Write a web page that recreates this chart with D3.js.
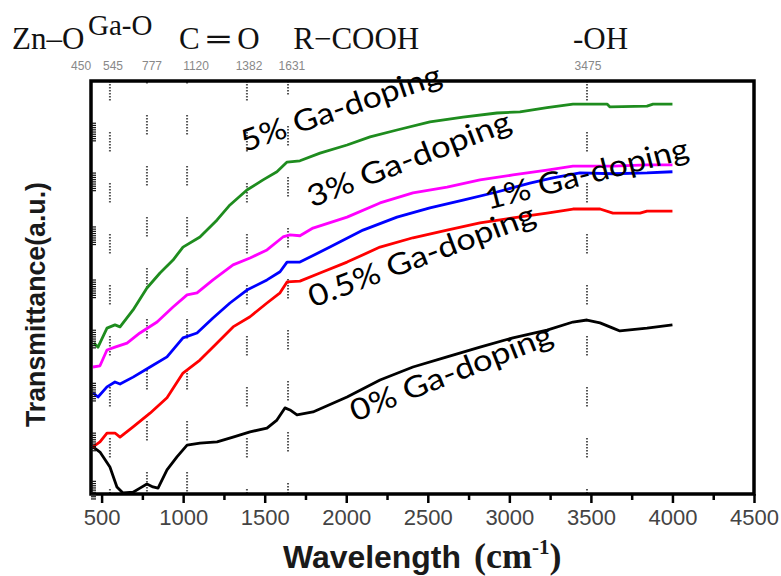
<!DOCTYPE html>
<html>
<head>
<meta charset="utf-8">
<script src="https://cdn.jsdelivr.net/npm/d3@7"></script>
<style>
  html, body { margin: 0; padding: 0; background: #fff; }
  svg { display: block; }
</style>
</head>
<body>
<div id="chart"></div>
<script>
// --- taille de la fenêtre ---
const width = 781;
const height = 576;

// --- données (nombre d'onde, transmittance u.a.) ---
const wn0 = [447, 490, 551, 594, 631, 693, 735, 778, 815, 846, 901, 962, 1024, 1103, 1208, 1306, 1410, 1514, 1575, 1624, 1655, 1698, 1796, 2005, 2207, 2409, 2618, 2820, 3022, 3231, 3390, 3476, 3556, 3635, 3678, 3844, 4000];
const t0 = [11.9, 10.6, 6.9, 2.0, 0.5, 0.7, 1.7, 2.7, 2.0, 1.7, 6.2, 9.4, 12.3, 12.8, 13.1, 14.3, 15.6, 16.5, 18.5, 21.5, 21.0, 19.8, 20.5, 24.2, 28.4, 31.6, 34.1, 36.5, 38.8, 40.7, 42.7, 43.2, 42.5, 41.2, 40.5, 41.2, 42.0];

const wn05 = [447, 490, 533, 582, 613, 693, 797, 901, 999, 1103, 1208, 1306, 1410, 1514, 1594, 1637, 1716, 1839, 2005, 2207, 2409, 2618, 2820, 3022, 3231, 3390, 3556, 3635, 3801, 3844, 4000];
const t05 = [11.9, 13.1, 15.3, 15.3, 14.3, 16.8, 20.2, 24.0, 30.1, 33.3, 37.5, 41.5, 44.0, 47.4, 49.9, 52.6, 52.8, 54.8, 57.5, 61.2, 63.5, 65.4, 67.2, 68.4, 69.6, 70.6, 70.6, 69.6, 69.6, 70.1, 70.1];

const wn1 = [447, 478, 533, 582, 613, 693, 797, 901, 999, 1085, 1183, 1287, 1391, 1514, 1594, 1637, 1716, 1900, 2103, 2311, 2513, 2716, 2924, 3126, 3267, 3433, 3635, 3844, 4000];
const t1 = [25.2, 24.2, 26.7, 27.9, 27.4, 29.1, 31.6, 34.1, 38.8, 40.0, 43.7, 47.4, 50.6, 53.1, 55.1, 57.5, 57.5, 61.2, 65.4, 68.6, 70.9, 72.8, 74.8, 77.0, 78.3, 79.5, 79.3, 79.5, 79.8];

const wn3 = [447, 490, 533, 582, 656, 735, 840, 938, 1024, 1085, 1183, 1306, 1410, 1514, 1612, 1655, 1716, 1796, 2005, 2207, 2409, 2618, 2820, 3022, 3231, 3390, 3635, 3844, 4000];
const t3 = [31.6, 31.9, 35.8, 36.5, 37.5, 40.0, 42.7, 46.4, 49.4, 49.9, 53.1, 56.8, 58.5, 60.5, 63.7, 64.2, 64.0, 65.9, 68.6, 72.1, 74.6, 76.0, 77.8, 79.0, 80.2, 81.2, 81.2, 81.5, 81.5];

const wn5 = [453, 478, 533, 582, 613, 693, 778, 858, 938, 999, 1103, 1208, 1287, 1391, 1490, 1575, 1637, 1716, 1839, 2005, 2146, 2311, 2513, 2716, 2924, 3065, 3231, 3390, 3599, 3617, 3844, 3881, 4000];
const t5 = [37.5, 36.5, 41.2, 42.0, 41.5, 45.7, 51.1, 54.8, 58.0, 61.2, 63.7, 67.9, 71.6, 75.3, 77.8, 79.8, 82.2, 82.5, 84.4, 86.4, 88.4, 90.1, 92.1, 93.3, 94.3, 94.6, 95.6, 96.5, 96.5, 95.8, 96.0, 96.5, 96.5];

const seriesNames = ["0% Ga-doping", "0.5% Ga-doping", "1% Ga-doping", "3% Ga-doping", "5% Ga-doping"];
const seriesColors = ["#000000", "#ff0000", "#0000ff", "#ff00ff", "#1e8c1e"];

// --- étiquettes inclinées (ancre en nombre d'onde / transmittance, angle) ---
const labelWn = [2054, 1796, 2869, 1790, 1379];
const labelT = [18.0, 46.2, 70.4, 70.9, 84.7];
const labelAngle = [-21.6, -20.7, -14.4, -21.2, -19];
const labelLen = [215, 240, 209, 216, 210];

// --- axe x ---
const xTicks = [500, 1000, 1500, 2000, 2500, 3000, 3500, 4000, 4500];
const xMinor = [750, 1250, 1750, 2250, 2750, 3250, 3750, 4250];
const yTicks = [89.6, 77.3, 64.0, 50.9, 38.5, 25.4, 13.1, 1.2];

// --- repères pointillés et leurs nombres ---
const markerWn = [551, 778, 1024, 1391, 1643, 3476];
const markerOffset = [0, 17, 17, 0, 6, 0];
const peakLabels = ["450", "545", "777", "1120", "1382", "1631", "3475"];
const peakLabelWn = [374, 570, 809, 1079, 1404, 1667, 3482];

// --- groupes fonctionnels en haut ---
const groupLabels = ["Zn\u2013O", "C \u2550 O", "R\u2212COOH", "-OH"];
const groupLabelWn = [-49, 975, 1675, 3390];

// --- géométrie du cadre ---
const plotLeft = 91, plotRight = 754, plotTop = 81, plotBottom = 494;

const x = d3.scaleLinear().domain([435, 4500]).range([plotLeft, plotRight]);
const y = d3.scaleLinear().domain([0.25, 102.2]).range([plotBottom, plotTop]);

const svg = d3.select("#chart").append("svg")
  .attr("width", width)
  .attr("height", height)
  .style("background", "#fff");

// --- lignes pointillées verticales ---
const dots = "1.5,1.5,1.5,1.5,1.5,1.5,1.5,1.5,1.5,1.5,1.5,1.5,1.5,31.5";
svg.append("g").selectAll("line")
  .data(markerWn)
  .join("line")
  .attr("x1", d => x(d)).attr("x2", d => x(d))
  .attr("y1", plotTop).attr("y2", plotBottom)
  .attr("stroke", "#555")
  .attr("stroke-width", 2)
  .attr("stroke-dasharray", dots)
  .attr("stroke-dashoffset", (d, i) => markerOffset[i]);

// --- courbes ---
const allWn = [wn0, wn05, wn1, wn3, wn5];
const allT = [t0, t05, t1, t3, t5];
const line = d3.line().x(d => x(d[0])).y(d => y(d[1]));

svg.append("g").selectAll("path")
  .data(allWn.map((w, i) => w.map((v, j) => [v, allT[i][j]])))
  .join("path")
  .attr("d", line)
  .attr("fill", "none")
  .attr("stroke", (d, i) => seriesColors[i])
  .attr("stroke-width", 2.8)
  .attr("stroke-linejoin", "round");

// --- cadre ---
svg.append("rect")
  .attr("x", plotLeft).attr("y", plotTop)
  .attr("width", plotRight - plotLeft).attr("height", plotBottom - plotTop)
  .attr("fill", "none")
  .attr("stroke", "#000")
  .attr("stroke-width", 3.5);

// --- petits traits à gauche ---
const yt = svg.append("g");
yTicks.forEach(v => {
  d3.range(-4, 5).forEach(k => {
    yt.append("line")
      .attr("x1", plotLeft).attr("x2", plotLeft + 5)
      .attr("y1", y(v) + k * 2.2).attr("y2", y(v) + k * 2.2)
      .attr("stroke", "#111").attr("stroke-width", 1.2);
  });
});

// --- axe x ---
const xAxis = svg.append("g")
  .attr("transform", `translate(0,${plotBottom})`)
  .call(d3.axisBottom(x).tickValues(xTicks).tickSize(9).tickFormat(d3.format("d")));
xAxis.select(".domain").remove();
xAxis.selectAll(".tick line").attr("stroke", "#000").attr("stroke-width", 2.5);
xAxis.selectAll(".tick text")
  .attr("y", 31).attr("dy", null)
  .style("font-family", "'Liberation Sans', Arial, sans-serif")
  .style("font-size", "22px")
  .attr("fill", "#444");

const xAxisMinor = svg.append("g")
  .attr("transform", `translate(0,${plotBottom})`)
  .call(d3.axisBottom(x).tickValues(xMinor).tickSize(6).tickFormat(""));
xAxisMinor.select(".domain").remove();
xAxisMinor.selectAll(".tick line").attr("stroke", "#000").attr("stroke-width", 2.5);

// --- titres des axes ---
const xt = svg.append("text")
  .attr("x", 283).attr("y", 568)
  .attr("fill", "#1a1a1a");
xt.append("tspan")
  .attr("textLength", 178)
  .attr("lengthAdjust", "spacingAndGlyphs")
  .style("font-family", "'Liberation Sans', Arial, sans-serif")
  .style("font-weight", "bold")
  .style("font-size", "31px")
  .text("Wavelength");
xt.append("tspan")
  .attr("x", 474)
  .style("font-family", "'Liberation Serif', 'Times New Roman', serif")
  .style("font-weight", "bold")
  .style("font-size", "36px")
  .text("(cm");
xt.append("tspan")
  .attr("dy", -14)
  .style("font-family", "'Liberation Serif', 'Times New Roman', serif")
  .style("font-weight", "bold")
  .style("font-size", "21px")
  .text("-1");
xt.append("tspan")
  .attr("dy", 14)
  .style("font-family", "'Liberation Serif', 'Times New Roman', serif")
  .style("font-weight", "bold")
  .style("font-size", "36px")
  .text(")");

svg.append("text")
  .attr("transform", "translate(45,427) rotate(-90)")
  .attr("textLength", 245)
  .attr("lengthAdjust", "spacingAndGlyphs")
  .style("font-family", "'Liberation Sans', Arial, sans-serif")
  .style("font-weight", "bold")
  .style("font-size", "27px")
  .attr("fill", "#1a1a1a")
  .text("Transmittance(a.u.)");

// --- nombres au-dessus du cadre ---
svg.append("g").selectAll("text")
  .data(peakLabels)
  .join("text")
  .attr("x", (d, i) => x(peakLabelWn[i]))
  .attr("y", 70)
  .attr("text-anchor", "middle")
  .style("font-family", "'Liberation Sans', Arial, sans-serif")
  .style("font-size", "12px")
  .attr("fill", "#888")
  .text(d => d);

// --- groupes fonctionnels ---
svg.append("g").selectAll("text")
  .data(groupLabels)
  .join("text")
  .attr("x", (d, i) => x(groupLabelWn[i]))
  .attr("y", 49)
  .style("font-family", "'Liberation Serif', 'Times New Roman', serif")
  .style("font-size", "31px")
  .attr("fill", "#111")
  .text(d => d);

svg.append("text")
  .attr("x", 88).attr("y", 35)
  .style("font-family", "'Liberation Serif', 'Times New Roman', serif")
  .style("font-size", "29px")
  .attr("fill", "#111")
  .text("Ga-O");

// --- étiquettes des séries ---
svg.append("g").selectAll("text")
  .data(seriesNames)
  .join("text")
  .attr("transform", (d, i) => `translate(${x(labelWn[i])},${y(labelT[i])}) rotate(${labelAngle[i]})`)
  .attr("textLength", (d, i) => labelLen[i])
  .attr("lengthAdjust", "spacingAndGlyphs")
  .style("font-family", "Lato, 'Open Sans', sans-serif")
  .style("font-size", "30px")
  .attr("fill", "#000")
  .text(d => d);
</script>
</body>
</html>
